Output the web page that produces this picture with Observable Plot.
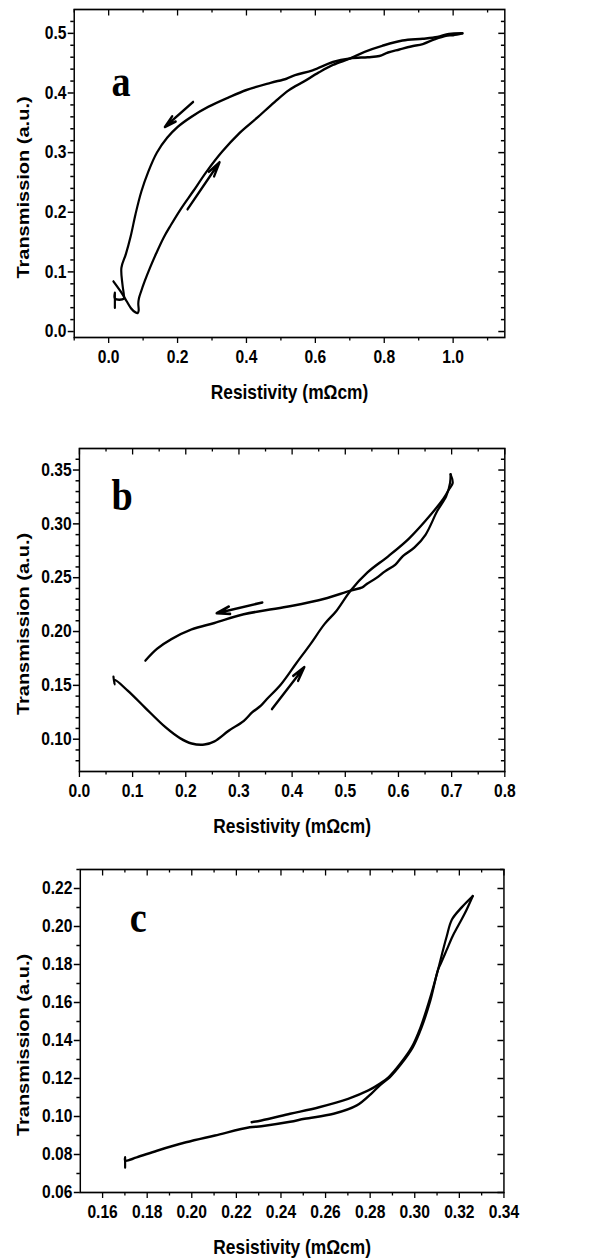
<!DOCTYPE html>
<html>
<head>
<meta charset="utf-8">
<script src="https://cdn.jsdelivr.net/npm/d3@7"></script>
<script src="https://cdn.jsdelivr.net/npm/@observablehq/plot@0.6"></script>
<style>
  html, body { margin: 0; padding: 0; background: #fff; }
  #chart > svg { display: block; }
</style>
</head>
<body>
<div id="chart"></div>
<script>
// ---------- Panel a ----------
const aForward = [
  [0.014,0.084],[0.035,0.067],[0.052,0.051],[0.065,0.039],[0.078,0.032],[0.084,0.031],
  [0.087,0.035],[0.086,0.047],[0.088,0.056],[0.094,0.067],[0.105,0.085],[0.120,0.107],
  [0.138,0.131],[0.160,0.158],[0.180,0.178],[0.210,0.206],[0.245,0.235],[0.284,0.268],
  [0.330,0.302],[0.380,0.333],[0.430,0.358],[0.482,0.385],[0.524,0.405],[0.566,0.419],
  [0.609,0.434],[0.651,0.447],[0.701,0.458],[0.743,0.469],[0.794,0.479],[0.853,0.488],
  [0.912,0.491],[0.954,0.494],[0.988,0.499],[1.027,0.500]
];
const aReturn = [
  [1.027,0.500],[1.000,0.497],[0.979,0.496],[0.946,0.490],[0.912,0.482],[0.878,0.478],
  [0.844,0.473],[0.811,0.468],[0.786,0.462],[0.752,0.460],[0.701,0.458],[0.651,0.452],
  [0.592,0.438],[0.541,0.430],[0.516,0.424],[0.470,0.417],[0.400,0.405],[0.350,0.393],
  [0.290,0.377],[0.240,0.360],[0.200,0.343],[0.170,0.325],[0.140,0.300],[0.115,0.268],
  [0.095,0.235],[0.078,0.197],[0.064,0.160],[0.050,0.130],[0.037,0.107],[0.040,0.079],
  [0.044,0.062],[0.044,0.055],[0.018,0.055],[0.018,0.065],[0.018,0.040]
];
const aArrows = [[0.245,0.385,0.163,0.343],[0.229,0.205,0.322,0.284]];
const aXMajor = [0.0,0.2,0.4,0.6,0.8,1.0];
const aXMinor = [-0.1,0.1,0.3,0.5,0.7,0.9,1.1];
const aYMajor = [0.0,0.1,0.2,0.3,0.4,0.5];
const aYMinor = [0.02,0.04,0.06,0.08,0.12,0.14,0.16,0.18,0.22,0.24,0.26,0.28,0.32,0.34,0.36,0.38,0.42,0.44,0.46,0.48,0.52];

// ---------- Panel b ----------
const bForward = [
  [0.064,0.158],[0.066,0.151],[0.066,0.155],[0.091,0.145],[0.124,0.129],[0.162,0.111],
  [0.189,0.101],[0.211,0.096],[0.235,0.095],[0.254,0.098],[0.281,0.108],[0.309,0.117],
  [0.325,0.125],[0.341,0.131],[0.352,0.137],[0.379,0.151],[0.407,0.170],[0.434,0.188],
  [0.461,0.207],[0.483,0.219],[0.510,0.238],[0.542,0.255],[0.581,0.270],[0.619,0.286],
  [0.651,0.303],[0.684,0.323],[0.695,0.332],[0.702,0.338],[0.698,0.346]
];
const bReturn = [
  [0.698,0.346],[0.697,0.338],[0.690,0.326],[0.673,0.312],[0.651,0.290],[0.630,0.278],
  [0.608,0.270],[0.594,0.262],[0.575,0.256],[0.559,0.250],[0.540,0.244],[0.532,0.241],
  [0.510,0.238],[0.450,0.229],[0.390,0.223],[0.309,0.216],[0.254,0.208],[0.211,0.202],
  [0.173,0.193],[0.146,0.184],[0.124,0.173]
];
const bArrows = [[0.344,0.227,0.258,0.217],[0.362,0.128,0.423,0.167]];
const bXMajor = [0.0,0.1,0.2,0.3,0.4,0.5,0.6,0.7,0.8];
const bXMinor = [0.05,0.15,0.25,0.35,0.45,0.55,0.65,0.75];
const bYMajor = [0.10,0.15,0.20,0.25,0.30,0.35];
const bYMinor = [0.08,0.09,0.11,0.12,0.13,0.14,0.16,0.17,0.18,0.19,0.21,0.22,0.23,0.24,0.26,0.27,0.28,0.29,0.31,0.32,0.33,0.34,0.36];

// ---------- Panel c ----------
const cForward = [
  [0.1701,0.0732],[0.1701,0.0785],[0.1701,0.0768],[0.1753,0.0785],[0.1844,0.0820],
  [0.1974,0.0864],[0.2104,0.0900],[0.2260,0.0943],[0.2312,0.0949],[0.2441,0.0972],
  [0.2506,0.0988],[0.2636,0.1014],[0.2740,0.1058],[0.2805,0.1120],[0.2849,0.1170],
  [0.2888,0.1207],[0.2940,0.1278],[0.2992,0.1366],[0.3031,0.1470],[0.3070,0.1610],
  [0.3104,0.1771],[0.3117,0.1806],[0.3143,0.1876],[0.3169,0.1947],[0.3195,0.2005],
  [0.3225,0.2070],[0.3260,0.2160]
];
const cReturn = [
  [0.3260,0.2160],[0.3210,0.2100],[0.3166,0.2035],[0.3143,0.1947],[0.3123,0.1859],
  [0.3104,0.1771],[0.3065,0.1610],[0.3026,0.1470],[0.2987,0.1366],[0.2935,0.1278],
  [0.2883,0.1207],[0.2844,0.1173],[0.2792,0.1137],[0.2701,0.1093],[0.2571,0.1049],
  [0.2441,0.1014],[0.2312,0.0979],[0.2268,0.0970]
];
const cArrows = [];
const cXMajor = [0.16,0.18,0.20,0.22,0.24,0.26,0.28,0.30,0.32,0.34];
const cXMinor = [0.17,0.19,0.21,0.23,0.25,0.27,0.29,0.31,0.33];
const cYMajor = [0.06,0.08,0.10,0.12,0.14,0.16,0.18,0.20,0.22];
const cYMinor = [0.07,0.09,0.11,0.13,0.15,0.17,0.19,0.21,0.23];

const xTitle = "Resistivity (mΩcm)";
const yTitle = "Transmission (a.u.)";
const letters = ["a", "b", "c"];

// Drawn on a 690-wide canvas and shown 599 wide (condensed, like the original scan).
const DRAW_W = 690, SHOW_W = 599, H = 420;

function panel(o) {
  const iw = DRAW_W - o.ml - o.mr, ih = H - o.mt - o.mb;
  const sw = 1.5;
  const svg = Plot.plot({
    width: DRAW_W, height: H,
    marginTop: o.mt, marginBottom: o.mb, marginLeft: o.ml, marginRight: o.mr,
    x: {domain: o.xDomain}, y: {domain: o.yDomain},
    style: {fontFamily: "'Liberation Sans', Arial, sans-serif", fontWeight: "bold", fontSize: "18px", color: "#000", background: "#fff", overflow: "visible"},
    marks: [
      Plot.axisX({ticks: o.xMajor, tickSize: 6, tickPadding: 7, tickFormat: d3.format(o.xFmt), label: null, strokeWidth: sw}),
      Plot.axisX({ticks: o.xMinor, tickSize: 3.5, tickFormat: () => "", label: null, strokeWidth: sw}),
      Plot.axisY({ticks: o.yMajor, tickSize: 7, tickPadding: 2, tickFormat: d3.format(o.yFmt), label: null, strokeWidth: sw}),
      Plot.axisY({ticks: o.yMinor, tickSize: 4, tickFormat: () => "", label: null, strokeWidth: sw}),
      Plot.tickX(o.xMajor, {x: d => d, insetBottom: ih - 6.5, strokeWidth: sw}),
      Plot.tickX(o.xMinor, {x: d => d, insetBottom: ih - 3.5, strokeWidth: sw}),
      Plot.tickY(o.yMajor, {y: d => d, insetLeft: iw - 7, strokeWidth: sw}),
      Plot.tickY(o.yMinor, {y: d => d, insetLeft: iw - 4, strokeWidth: sw}),
      Plot.frame({strokeWidth: 1.7}),
      ...o.branches.map(b => Plot.line(b, {x: d => d[0], y: d => d[1], stroke: "#000", strokeWidth: 2.5, strokeLinejoin: "round", strokeLinecap: "round", curve: "catmull-rom"})),
      Plot.arrow(o.arrows, {x1: d => d[0], y1: d => d[1], x2: d => d[2], y2: d => d[3], stroke: "#000", strokeWidth: 2.6, headLength: 9, headAngle: 28}),
      Plot.text([xTitle], {text: d => d, frameAnchor: "bottom", textAnchor: "middle", lineAnchor: "middle", dy: 55, fontSize: 20, fontWeight: "bold"}),
      Plot.text([yTitle], {text: d => d, frameAnchor: "left", textAnchor: "middle", lineAnchor: "middle", rotate: -90, dx: 26 - o.ml, dy: 14, fontSize: 20, fontWeight: "bold"}),
      Plot.text([o.letter], {text: d => d, frameAnchor: "top-left", textAnchor: "start", lineAnchor: "bottom", dx: o.ldx, dy: o.ldy, fontFamily: "'Liberation Serif', 'Times New Roman', serif", fontSize: 44, fontWeight: "bold"})
    ]
  });
  svg.setAttribute("width", SHOW_W);
  svg.setAttribute("height", H);
  svg.setAttribute("preserveAspectRatio", "none");
  svg.style.width = SHOW_W + "px";
  svg.style.height = H + "px";
  svg.style.maxWidth = "none";
  return svg;
}

const chart = document.getElementById("chart");
chart.append(panel({
  xDomain: [-0.1, 1.15], yDomain: [-0.01, 0.54],
  xMajor: aXMajor, xMinor: aXMinor, yMajor: aYMajor, yMinor: aYMinor,
  xFmt: ".1f", yFmt: ".1f", mt: 9, mb: 83, ml: 85, mr: 109,
  branches: [aForward, aReturn], arrows: aArrows, letter: letters[0], ldx: 43, ldy: 86
}));
chart.append(panel({
  xDomain: [0, 0.8], yDomain: [0.07, 0.37],
  xMajor: bXMajor, xMinor: bXMinor, yMajor: bYMajor, yMinor: bYMinor,
  xFmt: ".1f", yFmt: ".2f", mt: 28, mb: 69, ml: 91, mr: 109,
  branches: [bForward, bReturn], arrows: bArrows, letter: letters[1], ldx: 37, ldy: 61
}));
chart.append(panel({
  xDomain: [0.15, 0.34], yDomain: [0.06, 0.23],
  xMajor: cXMajor, xMinor: cXMinor, yMajor: cYMajor, yMinor: cYMinor,
  xFmt: ".2f", yFmt: ".2f", mt: 29, mb: 68, ml: 92, mr: 110,
  branches: [cForward, cReturn], arrows: cArrows, letter: letters[2], ldx: 57, ldy: 62
}));
</script>
</body>
</html>
